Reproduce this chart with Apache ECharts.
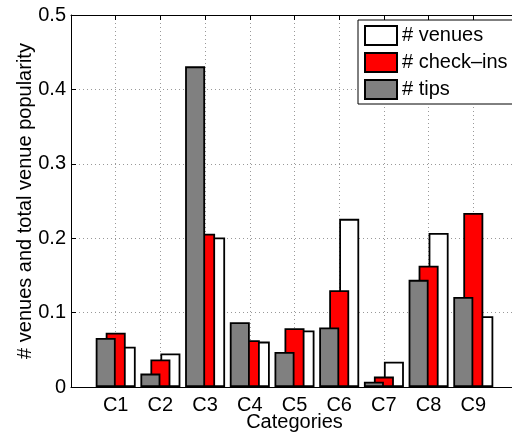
<!DOCTYPE html>
<html>
<head>
<meta charset="utf-8">
<script src="https://cdn.jsdelivr.net/npm/echarts@6/dist/echarts.min.js"></script>
<style>
html,body{margin:0;padding:0;background:#fff;}
#c{width:512px;height:435px;}
</style>
</head>
<body>
<div id="c"></div>
<script>
var categories = ['C1','C2','C3','C4','C5','C6','C7','C8','C9'];
var venues   = [0.054, 0.045, 0.201, 0.061, 0.076, 0.226, 0.034, 0.207, 0.095];
var checkins = [0.073, 0.037, 0.206, 0.063, 0.079, 0.130, 0.014, 0.163, 0.234];
var tips     = [0.066, 0.018, 0.431, 0.087, 0.047, 0.080, 0.007, 0.144, 0.121];
var yTicks = [0, 0.1, 0.2, 0.3, 0.4, 0.5];

var axisCats = [''].concat(categories).concat(['']);
function pad(arr){ return ['-'].concat(arr).concat(['-']); }

var FONT = 'Liberation Sans, Arial, Helvetica, sans-serif';
var chart = echarts.init(document.getElementById('c'));
var border = {borderColor:'#000', borderWidth:1.8};
function mk(name, data, color, z){
  return {
    name:name, type:'bar', data:pad(data), barWidth:20, barGap:'-50%', z:z,
    itemStyle:Object.assign({color:color}, border),
    emphasis:{disabled:true}, animation:false
  };
}
chart.setOption({
  animation:false,
  textStyle:{fontFamily:FONT},
  grid:{left:71, top:15, width:447, height:372, containLabel:false, outerBoundsMode:'none'},
  xAxis:[{
    type:'category', data:axisCats, boundaryGap:false,
    axisLine:{lineStyle:{color:'#000', width:1}},
    axisTick:{inside:true, length:5, lineStyle:{color:'#000'}},
    axisLabel:{color:'#000', fontSize:20, fontFamily:FONT, margin:8, interval:0},
    splitLine:{show:true, lineStyle:{type:[1,3], color:'#999', width:1}},
    name:'Categories', nameLocation:'middle', nameGap:25, nameMoveOverlap:false,
    nameTextStyle:{color:'#000', fontSize:20, fontFamily:FONT}
  },{
    type:'category', data:axisCats, boundaryGap:false, position:'top',
    axisLine:{lineStyle:{color:'#000', width:1}},
    axisTick:{inside:true, length:5, lineStyle:{color:'#000'}},
    axisLabel:{show:false}, splitLine:{show:false}
  }],
  yAxis:[{
    type:'value', min:yTicks[0], max:yTicks[yTicks.length-1], interval:0.1,
    axisLine:{show:true, lineStyle:{color:'#000', width:1}},
    axisTick:{show:true, inside:true, length:5, lineStyle:{color:'#000'}},
    axisLabel:{color:'#000', fontSize:20, fontFamily:FONT, margin:5,
      formatter:function(v){ return v===0 ? '0' : v.toFixed(1); }},
    splitLine:{show:true, lineStyle:{type:[1,3], color:'#999', width:1}},
    name:'# venues and total venue popularity', nameLocation:'middle', nameGap:36, nameMoveOverlap:false,
    nameTextStyle:{color:'#000', fontSize:20, fontFamily:FONT}
  }],
  legend:{
    data:['# venues','# check–ins','# tips'],
    orient:'vertical', left:358, top:20, icon:'rect',
    itemWidth:32, itemHeight:19, itemGap:6, itemTextGap:4,
    padding:[5,14,4,6],
    backgroundColor:'#fff', borderColor:'#000', borderWidth:1,
    textStyle:{color:'#000', fontSize:20, fontFamily:FONT},
    selectedMode:false
  },
  series:[
    mk('# tips', tips, '#808080', 4),
    mk('# check–ins', checkins, '#ff0000', 3),
    mk('# venues', venues, '#ffffff', 2)
  ]
});
</script>
</body>
</html>
